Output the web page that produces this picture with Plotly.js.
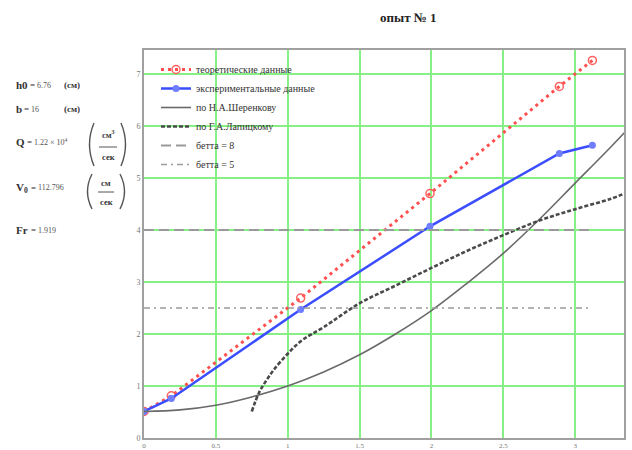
<!DOCTYPE html>
<html>
<head>
<meta charset="utf-8">
<script src="https://cdn.plot.ly/plotly-3.0.1.min.js"></script>
<style>html,body{margin:0;padding:0;background:#fff;}#chart{width:632px;height:450px;}</style>
</head>
<body>
<div id="chart"></div>
<script>
// ---- data ----
const expX   = [0, 0.19, 1.09, 1.99, 2.89, 3.12];
const theoY  = [0.51, 0.81, 2.69, 4.70, 6.76, 7.26];
const expY   = [0.51, 0.76, 2.47, 4.07, 5.47, 5.63];

const sherX  = [0, 0.25, 0.5, 0.75, 1, 1.25, 1.5, 1.75, 2, 2.25, 2.5, 2.75, 3, 3.25, 3.35];
const sherY  = [0.51, 0.54, 0.63, 0.79, 1.0, 1.27, 1.6, 2.0, 2.45, 2.98, 3.55, 4.2, 4.9, 5.6, 5.89];

const lapX   = [0.75, 0.8, 0.85, 0.9, 1.0, 1.1, 1.25, 1.5, 1.75, 2.0, 2.25, 2.5, 2.75, 3.0, 3.25, 3.35];
const lapY   = [0.51, 0.87, 1.1, 1.3, 1.62, 1.88, 2.13, 2.59, 2.93, 3.27, 3.6, 3.9, 4.18, 4.4, 4.6, 4.71];

const betaX  = [0, 3.1];
const beta8Y = [4, 4];
const beta5Y = [2.5, 2.5];

const names = ['теоретические данные', 'экспериментальные данные', 'по Н.А.Шеренкову',
               'по Г.А.Лапицкому', 'бетта = 8', 'бетта = 5'];
const xTicks = [0, 0.5, 1, 1.5, 2, 2.5, 3];
const xTickText = ['0', '0.5', '1', '1.5', '2', '2.5', '3'];
const yTicks = [0, 1, 2, 3, 4, 5, 6, 7];

// ---- plot geometry helpers (pixel -> paper) ----
const L = 144, R = 624, T = 50, B = 438;
const px = x => (x - L) / (R - L);
const py = y => (B - y) / (B - T);

const traces = [
  {x: expX, y: theoY, name: names[0], mode: 'lines+markers',
   line: {color: '#ff5050', width: 3, dash: '3px,4px'},
   marker: {symbol: 'circle-open', size: 8, color: '#ff6060', line: {width: 1.5}}},
  {x: expX, y: expY, name: names[1], mode: 'lines+markers',
   line: {color: '#3a4dff', width: 2.5},
   marker: {symbol: 'circle', size: 7, color: '#6f7dff'}},
  {x: sherX, y: sherY, name: names[2], mode: 'lines', line: {shape: 'spline', color: '#6a6a6a', width: 1.6}},
  {x: lapX, y: lapY, name: names[3], mode: 'lines', line: {shape: 'spline', color: '#4a4a4a', width: 2.6, dash: '4px,2px'}},
  {x: betaX, y: beta8Y, name: names[4], mode: 'lines', line: {color: '#9a9a9a', width: 2, dash: '10px,5px'}},
  {x: betaX, y: beta5Y, name: names[5], mode: 'lines', line: {color: '#9a9a9a', width: 1.6, dash: '6px,4px,2px,4px'}}
];

const serif = 'Liberation Serif, Times New Roman, serif';
const ann = [];
function txt(x, y, s, size, opts) {
  ann.push(Object.assign({xref: 'paper', yref: 'paper', x: px(x), y: py(y), text: s,
    showarrow: false, xanchor: 'left', yanchor: 'middle',
    font: {family: serif, size: size, color: '#333'}}, opts || {}));
}
const num = {font: {family: serif, size: 8, color: '#555'}};
// title
txt(408, 17, '<b>опыт № 1</b>', 13, {xanchor: 'center', font: {family: serif, size: 13, color: '#222'}});
// left parameter block
txt(14, 85, '<b>h0</b>', 11); txt(28, 85, '=', 9); txt(35, 85, '6.76', 8, num); txt(62, 85, '<b>(см)</b>', 9);
txt(14, 109, '<b>b</b>', 11); txt(22, 109, '=', 9); txt(29, 109, '16', 8, num); txt(62, 109, '<b>(см)</b>', 9);
txt(14, 142, '<b>Q</b>', 11); txt(25, 142, '=', 9); txt(32, 142, '1.22 × 10<sup>4</sup>', 8, num);
txt(108, 134, '<b>см<sup>3</sup></b>', 8.5, {xanchor: 'center'}); txt(108, 157, '<b>сек</b>', 8.5, {xanchor: 'center'});
txt(14, 188, '<b>V<sub>0</sub></b>', 11); txt(29, 188, '=', 9); txt(36, 188, '112.796', 8, num);
txt(106, 183, '<b>см</b>', 8.5, {xanchor: 'center'}); txt(106, 202, '<b>сек</b>', 8.5, {xanchor: 'center'});
txt(14, 230, '<b>Fr</b>', 11); txt(29, 230, '=', 9); txt(36, 230, '1.919', 8, num);

function paren(x0, yTop, yBot, dir) {
  const ym = (yTop + yBot) / 2;
  return {type: 'path', xref: 'paper', yref: 'paper',
    path: 'M ' + px(x0) + ' ' + py(yTop) + ' Q ' + px(x0 - dir * 9) + ' ' + py(ym) + ' ' + px(x0) + ' ' + py(yBot),
    line: {color: '#555', width: 1.4}};
}
const shapes = [
  paren(94, 123, 166, 1), paren(121, 123, 166, -1),
  {type: 'line', xref: 'paper', yref: 'paper', x0: px(99), x1: px(117), y0: py(147), y1: py(147), line: {color: '#555', width: 1}},
  paren(92, 174, 209, 1), paren(120, 174, 209, -1),
  {type: 'line', xref: 'paper', yref: 'paper', x0: px(98), x1: px(114), y0: py(192), y1: py(192), line: {color: '#555', width: 1}}
];

const layout = {
  width: 632, height: 450,
  margin: {l: L, r: 632 - R, t: T, b: 450 - B},
  paper_bgcolor: '#fff', plot_bgcolor: '#fff',
  showlegend: true,
  legend: {x: px(156), y: py(55), xanchor: 'left', yanchor: 'top', bgcolor: 'rgba(0,0,0,0)',
           font: {family: serif, size: 10, color: '#333'}, itemwidth: 30},
  xaxis: {range: [0, 3.34], tickvals: xTicks, ticktext: xTickText, showgrid: true, gridcolor: '#86ef86', gridwidth: 2,
          zeroline: false, showline: true, mirror: true, linecolor: '#a0a0a0', linewidth: 2, ticks: '',
          ticklabelstandoff: 0, tickfont: {family: serif, size: 7, color: '#777'}},
  yaxis: {range: [0, 7.46], tickvals: yTicks, showgrid: true, gridcolor: '#86ef86', gridwidth: 2,
          zeroline: false, showline: true, mirror: true, linecolor: '#a0a0a0', linewidth: 2, ticks: '',
          tickfont: {family: serif, size: 8, color: '#777'}},
  annotations: ann,
  shapes: shapes
};

Plotly.newPlot('chart', traces, layout, {displayModeBar: false, staticPlot: true});
</script>
</body>
</html>
